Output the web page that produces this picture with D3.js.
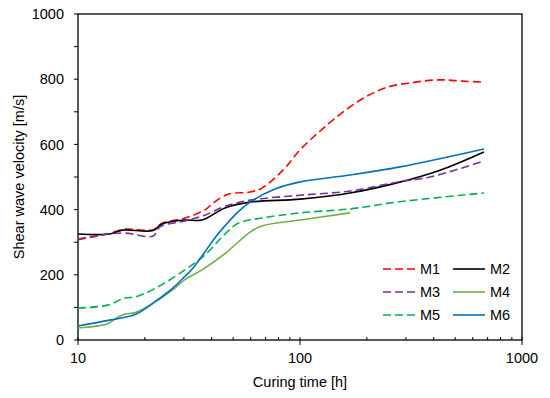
<!DOCTYPE html>
<html>
<head>
<meta charset="utf-8">
<script src="https://cdn.jsdelivr.net/npm/d3@7"></script>
<style>
  body { margin: 0; background: #fff; }
  text { font-family: "Liberation Sans", Arial, sans-serif; fill: #000; }
</style>
</head>
<body>
<div id="chart"></div>
<script>
// curing time [h] and shear wave velocity [m/s] for each mix
const m1T = [10, 13.6, 16.3, 21.8, 23.9, 30.3, 37.3, 40.6, 47.4, 59.6, 67.4, 83.8, 100, 119, 141, 181, 241, 330, 427, 542, 674];
const m1V = [308, 325, 340, 338, 358, 374, 399, 420, 447, 454, 466, 521, 583, 632, 675, 730, 773, 791, 798, 794, 791];

const m2T = [10, 13.9, 15.8, 21.8, 23.9, 30.3, 36.2, 45.9, 59.6, 100, 168, 273, 427, 674];
const m2V = [325, 325, 337, 336, 356, 368, 368, 405, 423, 432, 451, 482, 521, 577];

const m3T = [10, 13.6, 16.3, 21.8, 23.5, 30.3, 37.3, 45.9, 59.6, 100, 168, 273, 385, 674];
const m3V = [310, 325, 328, 319, 348, 365, 383, 410, 429, 444, 457, 484, 500, 549];

const m4T = [10, 13.6, 15.1, 16.3, 18.1, 22.9, 27.4, 30.3, 36.2, 45.9, 59.6, 67.4, 100, 168];
const m4V = [37, 50, 70, 80, 84, 122, 160, 185, 215, 265, 331, 350, 368, 390];

const m5T = [10, 13.6, 16.3, 18.1, 22.9, 30.3, 37.3, 45.9, 52.6, 67.4, 100, 168, 273, 674];
const m5V = [98, 107, 129, 132, 163, 215, 261, 325, 358, 374, 390, 402, 423, 451];

const m6T = [10, 13.9, 18.1, 20.5, 23, 26.8, 30.3, 33, 37.3, 41, 45.9, 52.6, 59.6, 77.1, 100, 168, 282, 674];
const m6V = [43, 61, 78, 100, 125, 160, 195, 221, 270, 310, 350, 393, 423, 463, 485, 506, 531, 586];

const seriesNames = ["M1", "M2", "M3", "M4", "M5", "M6"];
const xTickLabels = [10, 100, 1000];
const yTickLabels = [0, 200, 400, 600, 800, 1000];

const styles = {
  M1: {color: "#ff0000", dash: "8,4"},
  M2: {color: "#000000", dash: null},
  M3: {color: "#7030a0", dash: "8,4"},
  M4: {color: "#70ad47", dash: null},
  M5: {color: "#00b050", dash: "8,4"},
  M6: {color: "#0070c0", dash: null}
};

const allT = [m1T, m2T, m3T, m4T, m5T, m6T];
const allV = [m1V, m2V, m3V, m4V, m5V, m6V];
const series = seriesNames.map((name, i) => ({
  name: name,
  values: allT[i].map((t, j) => ({t: t, v: allV[i][j]}))
}));

const margin = {top: 14, right: 28, bottom: 58, left: 78},
    width = 550 - margin.left - margin.right,
    height = 398 - margin.top - margin.bottom;

const svg = d3.select("#chart")
  .append("svg")
    .attr("width", 550)
    .attr("height", 398)
  .append("g")
    .attr("transform", "translate(" + margin.left + "," + margin.top + ")");

const x = d3.scaleLog().domain([10, 1000]).range([0, width]);
const y = d3.scaleLinear().domain([0, 1000]).range([height, 0]);

// minor x ticks, inward
const minorX = [];
for (let d = 10; d < 1000; d *= 10) {
  for (let k = 2; k <= 9; k++) minorX.push(d * k);
}
svg.append("g")
  .selectAll("line")
  .data(minorX)
  .enter().append("line")
    .attr("x1", d => x(d)).attr("x2", d => x(d))
    .attr("y1", height - 3).attr("y2", height)
    .attr("stroke", "#000").attr("stroke-width", 1);

// major x ticks cross the axis
svg.append("g")
  .selectAll("line")
  .data(xTickLabels)
  .enter().append("line")
    .attr("x1", d => x(d)).attr("x2", d => x(d))
    .attr("y1", height - 3).attr("y2", height + 5)
    .attr("stroke", "#000").attr("stroke-width", 1);

svg.append("g")
  .selectAll("text")
  .data(xTickLabels)
  .enter().append("text")
    .attr("x", d => x(d))
    .attr("y", height + 23)
    .attr("text-anchor", "middle")
    .style("font-size", "14.5px")
    .text(d => d);

// y ticks every 100, outward
svg.append("g")
  .selectAll("line")
  .data(d3.range(0, 1001, 100))
  .enter().append("line")
    .attr("x1", -4).attr("x2", 0)
    .attr("y1", d => y(d)).attr("y2", d => y(d))
    .attr("stroke", "#000").attr("stroke-width", 1);

svg.append("g")
  .selectAll("text")
  .data(yTickLabels)
  .enter().append("text")
    .attr("x", -14)
    .attr("y", d => y(d))
    .attr("dy", "0.36em")
    .attr("text-anchor", "end")
    .style("font-size", "14.5px")
    .text(d => d);

// frame
svg.append("rect")
  .attr("x", 0).attr("y", 0)
  .attr("width", width).attr("height", height)
  .attr("fill", "none")
  .attr("stroke", "#000")
  .attr("stroke-width", 1.3);

const line = d3.line()
  .curve(d3.curveCatmullRom.alpha(0.5))
  .x(d => x(d.t))
  .y(d => y(d.v));

svg.append("g")
  .selectAll("path")
  .data(series)
  .enter().append("path")
    .attr("fill", "none")
    .attr("stroke", d => styles[d.name].color)
    .attr("stroke-width", 1.6)
    .attr("stroke-dasharray", d => styles[d.name].dash)
    .attr("d", d => line(d.values));

// axis titles
svg.append("text")
  .attr("x", width / 2)
  .attr("y", height + 47)
  .attr("text-anchor", "middle")
  .style("font-size", "14.5px")
  .text("Curing time [h]");

svg.append("text")
  .attr("transform", "rotate(-90)")
  .attr("x", -height / 2)
  .attr("y", -54)
  .attr("text-anchor", "middle")
  .style("font-size", "14.5px")
  .text("Shear wave velocity [m/s]");

// legend, two columns
const legend = svg.append("g")
  .selectAll("g")
  .data(seriesNames)
  .enter().append("g")
    .attr("transform", (d, i) => "translate(" + (305 + (i % 2) * 70) + "," + (255 + Math.floor(i / 2) * 23) + ")");

legend.append("line")
  .attr("x1", 0).attr("x2", 32)
  .attr("stroke", d => styles[d].color)
  .attr("stroke-width", 1.6)
  .attr("stroke-dasharray", d => styles[d].dash);

legend.append("text")
  .attr("x", 37)
  .attr("dy", "0.36em")
  .style("font-size", "14.5px")
  .text(d => d);
</script>
</body>
</html>
